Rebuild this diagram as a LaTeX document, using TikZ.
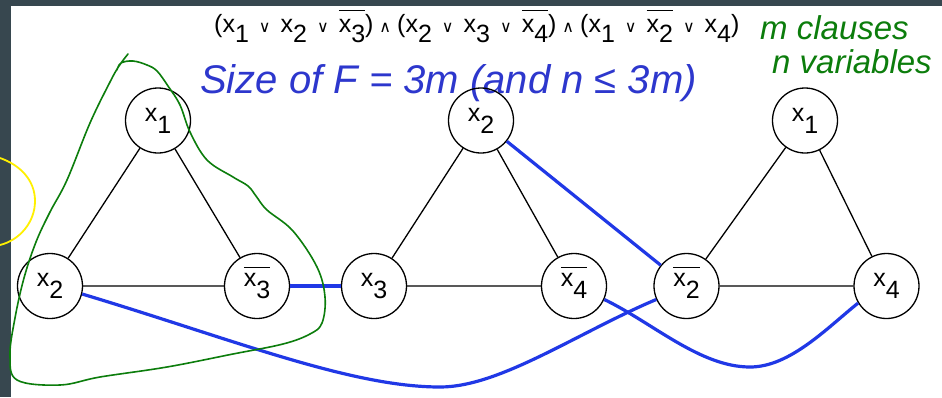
\documentclass[tikz,border=0pt]{standalone}
\usepackage{fontspec}
\setmainfont{Liberation Sans}
\newfontfamily\symfont{DejaVu Sans}
\definecolor{framegray}{RGB}{55,71,79}
\definecolor{edgeblue}{RGB}{32,56,230}
\definecolor{inkblue}{RGB}{45,55,205}
\definecolor{inkgreen}{RGB}{12,125,12}
\definecolor{inkyellow}{RGB}{255,240,0}
\newcommand\lit[1]{x\raisebox{-12pt}{#1}}
\newcommand\nlit[1]{\setbox0\hbox{\lit{#1}}\rlap{\smash{\rule[19pt]{\wd0}{0.9pt}}}\box0}
\newcommand\flit[1]{x\raisebox{-10pt}{#1}}
\newcommand\fnlit[1]{\setbox0\hbox{\flit{#1}}\rlap{\smash{\rule[21pt]{\wd0}{0.9pt}}}\box0}
\newcommand\OR{\hspace{10pt}{\symfont\fontsize{16}{16}\selectfont ∨}\hspace{10pt}}
\newcommand\AND{\hspace{6pt}{\symfont\fontsize{16}{16}\selectfont ∧}\hspace{6pt}}
\begin{document}
\begin{tikzpicture}[x=1pt,y=-1pt,
  vnode/.style={circle,draw,line width=1.3pt,minimum size=65pt,inner sep=0pt,
    font=\fontsize{25}{27}\selectfont},
  tri/.style={line width=1.3pt},
  bluelink/.style={edgeblue,line width=3.2pt},
  greenink/.style={inkgreen,line width=1.6pt,line cap=round,line join=round},
  yellowink/.style={inkyellow,line width=1.8pt}]
\useasboundingbox (0,0) rectangle (942,397);
\fill[white] (0,0) rectangle (942,397);
\fill[framegray] (0,0) rectangle (942,6);
\fill[framegray] (0,0) rectangle (11,397);
% formula
\node[anchor=base west,inner sep=0pt,font=\fontsize{25}{27}\selectfont] (formula) at (214,32)
 {(\flit1\OR\flit2\OR\fnlit3)\AND(\flit2\OR\flit3\OR\fnlit4)\AND(\flit1\OR\fnlit2\OR\flit4)};
% handwritten notes
\node[anchor=base west,inner sep=0pt,inkblue,font=\itshape\fontsize{40}{42}\selectfont] (note) at (200,93)
 {Size of F = 3m (and n ≤ 3m)};
\node[anchor=base west,inner sep=0pt,inkgreen,font=\itshape\fontsize{33}{35}\selectfont] (clauses) at (760,39) {m clauses};
\node[anchor=base west,inner sep=0pt,inkgreen,font=\itshape\fontsize{33}{35}\selectfont] (vars) at (772,73) {n variables};
% nodes
\node[vnode] (a1) at (158,120.5) {\lit1};
\node[vnode] (a2) at (50,286) {\lit2};
\node[vnode] (a3) at (257,286) {\nlit3};
\node[vnode] (b1) at (481,120.5) {\lit2};
\node[vnode] (b2) at (374,286) {\lit3};
\node[vnode] (b3) at (574,286) {\nlit4};
\node[vnode] (c1) at (805,120.5) {\lit1};
\node[vnode] (c2) at (686.5,286) {\nlit2};
\node[vnode] (c3) at (886.5,286) {\lit4};
% triangle edges
\draw[tri] (a1) -- (a2) (a1) -- (a3) (a2) -- (a3);
\draw[tri] (b1) -- (b2) (b1) -- (b3) (b2) -- (b3);
\draw[tri] (c1) -- (c2) (c1) -- (c3) (c2) -- (c3);
% blue links
\draw[bluelink] (a3) -- (b2);
\draw[bluelink] (b1) -- (c2);
\draw[bluelink] (a2.-14) .. controls (232,339) and (350,387) .. (440,387)
  .. controls (500,387) and (577,333) .. (c2.-156);
\draw[bluelink] (b3.-24) .. controls (653,323) and (700,367) .. (750,367)
  .. controls (790,367) and (827,328) .. (c3.-149);
% green loop
\draw[greenink] plot[smooth,tension=0.6] coordinates {
 (128,54) (119,66) (110,82) (90,123) (67,180) (50,212) (36,242) (24,278) (15,318)
 (10,355) (17,380) (60,385) (100,377) (167,367) (233,354) (283,344) (310,334)
 (322,323) (325,297) (317,267) (293,231) (267,210) (256,196) (248,186) (233,177)
 (207,160) (190,132) (180,105) (168,86) (157,71) (147,65) (133,61) (121,63) (117,70)};
% yellow arc
\draw[yellowink] (0,158) .. controls (20,165) and (35,180) .. (35,201)
  .. controls (35,222) and (20,240) .. (0,245);
\end{tikzpicture}
\end{document}
